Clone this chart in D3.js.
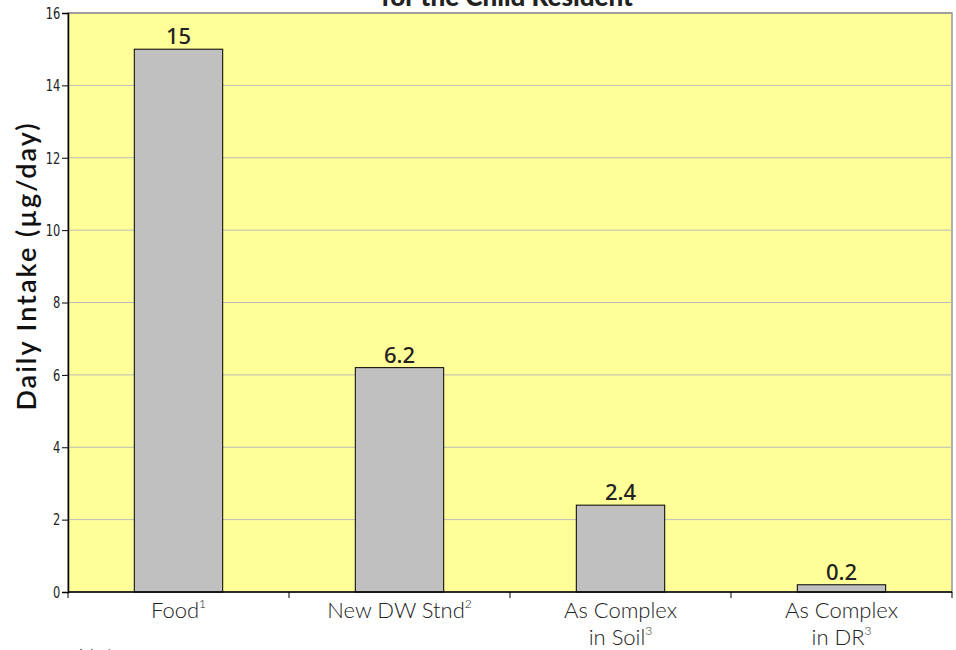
<!DOCTYPE html>
<html>
<head>
<meta charset="utf-8">
<script src="https://cdn.jsdelivr.net/npm/d3@7"></script>
<style>
  body { margin: 0; background: #fff; }
</style>
</head>
<body>
<script>
// -----------------------------
// Data
// -----------------------------
const categories = ["Food", "New DW Stnd", "As Complex|in Soil", "As Complex|in DR"];
const footnotes = ["1", "2", "3", "3"];
const intakes = [15, 6.2, 2.4, 0.2];
const valueLabels = ["15", "6.2", "2.4", "0.2"];
const yTicks = [0, 2, 4, 6, 8, 10, 12, 14, 16];

// -----------------------------
// SVG Setup
// -----------------------------
const WIDTH = 956;
const HEIGHT = 650;
const PLOT = { left: 68, right: 952, top: 13, bottom: 592 };

const svg = d3.select("body")
  .append("svg")
  .attr("width", WIDTH)
  .attr("height", HEIGHT)
  .attr("viewBox", `0 0 ${WIDTH} ${HEIGHT}`);

const x = d3.scaleBand()
  .domain(categories)
  .range([PLOT.left, PLOT.right])
  .paddingInner(0.6)
  .paddingOuter(0.3);

const y = d3.scaleLinear()
  .domain([0, 16])
  .range([PLOT.bottom, PLOT.top]);

// plot background
svg.append("rect")
  .attr("x", PLOT.left)
  .attr("y", PLOT.top)
  .attr("width", PLOT.right - PLOT.left)
  .attr("height", PLOT.bottom - PLOT.top)
  .attr("fill", "#FFFF99")
  .attr("stroke", "#999")
  .attr("stroke-width", 1.5);

// gridlines
svg.append("g")
  .selectAll("line")
  .data(yTicks.filter(d => d > 0))
  .enter()
  .append("line")
  .attr("x1", PLOT.left)
  .attr("x2", PLOT.right)
  .attr("y1", d => y(d))
  .attr("y2", d => y(d))
  .attr("stroke", d => d === 16 ? "#999" : "#bbb")
  .attr("stroke-width", d => d === 16 ? 1.5 : 1);

// bars
svg.append("g")
  .selectAll("rect")
  .data(intakes)
  .enter()
  .append("rect")
  .attr("x", (d, i) => x(categories[i]))
  .attr("y", d => y(d))
  .attr("width", x.bandwidth())
  .attr("height", d => y(0) - y(d))
  .attr("fill", "#C0C0C0")
  .attr("stroke", "#000")
  .attr("stroke-width", 1);

// value labels
svg.append("g")
  .selectAll("text")
  .data(intakes)
  .enter()
  .append("text")
  .attr("x", (d, i) => x(categories[i]) + x.bandwidth() / 2)
  .attr("y", d => y(d) - 5)
  .attr("text-anchor", "middle")
  .attr("font-family", "'Noto Sans', Lato, sans-serif")
  .attr("font-size", 22)
  .attr("font-weight", 500)
  .attr("fill", "#222")
  .text((d, i) => valueLabels[i]);

// y axis
const yAxis = svg.append("g")
  .attr("transform", `translate(${PLOT.left},0)`)
  .call(d3.axisLeft(y).tickValues(yTicks).tickSize(6).tickPadding(3).tickFormat(d3.format("d")));
yAxis.select(".domain").attr("stroke", "#000").attr("stroke-width", 1.5);
yAxis.selectAll(".tick line").attr("stroke", "#000");
yAxis.selectAll(".tick text")
  .attr("font-family", "'DejaVu Sans Condensed', 'Liberation Sans Narrow', sans-serif")
  .attr("font-stretch", "condensed")
  .attr("font-size", 15)
  .attr("transform", "scale(0.85,1.1)")
  .attr("fill", "#222");

// x axis with boundary ticks
const xAxisG = svg.append("g");
xAxisG.append("line")
  .attr("x1", PLOT.left)
  .attr("x2", PLOT.right)
  .attr("y1", PLOT.bottom)
  .attr("y2", PLOT.bottom)
  .attr("stroke", "#000")
  .attr("stroke-width", 1.5);
const boundaries = d3.range(categories.length + 1).map(i => PLOT.left + i * (PLOT.right - PLOT.left) / categories.length);
xAxisG.selectAll("line.tick")
  .data(boundaries)
  .enter()
  .append("line")
  .attr("class", "tick")
  .attr("x1", d => d)
  .attr("x2", d => d)
  .attr("y1", PLOT.bottom)
  .attr("y2", PLOT.bottom + 6)
  .attr("stroke", "#000");

// category labels
const labelFont = "Lato, 'Noto Sans', sans-serif";
categories.forEach((c, i) => {
  const lines = c.split("|");
  const t = svg.append("text")
    .attr("text-anchor", "middle")
    .attr("font-family", labelFont)
    .attr("font-size", 22)
    .attr("font-weight", 300)
    .attr("fill", "#222");
  lines.forEach((ln, j) => {
    t.append("tspan")
      .attr("x", x(c) + x.bandwidth() / 2)
      .attr("y", 618 + j * 27)
      .text(ln);
    if (j === lines.length - 1) {
      t.append("tspan")
        .attr("dy", -10)
        .attr("font-size", 12)
        .text(footnotes[i]);
    }
  });
});

// y axis title
svg.append("text")
  .attr("transform", "translate(36,266) rotate(-90)")
  .attr("text-anchor", "middle")
  .attr("font-family", "Lato, 'Noto Sans', sans-serif")
  .attr("font-size", 27)
  .attr("font-weight", 600)
  .attr("letter-spacing", 2)
  .attr("fill", "#111")
  .text("Daily Intake (µg/day)");

// partially visible title
svg.append("text")
  .attr("x", 507)
  .attr("y", 6)
  .attr("text-anchor", "middle")
  .attr("font-family", "Lato, 'Noto Sans', sans-serif")
  .attr("font-size", 26)
  .attr("font-weight", 900)
  .attr("fill", "#222")
  .text("for the Child Resident");

// partially visible notes
svg.append("text")
  .attr("x", 78)
  .attr("y", 664)
  .attr("font-family", labelFont)
  .attr("font-size", 22)
  .attr("font-weight", 300)
  .attr("fill", "#333")
  .text("Notes:");
</script>
</body>
</html>
